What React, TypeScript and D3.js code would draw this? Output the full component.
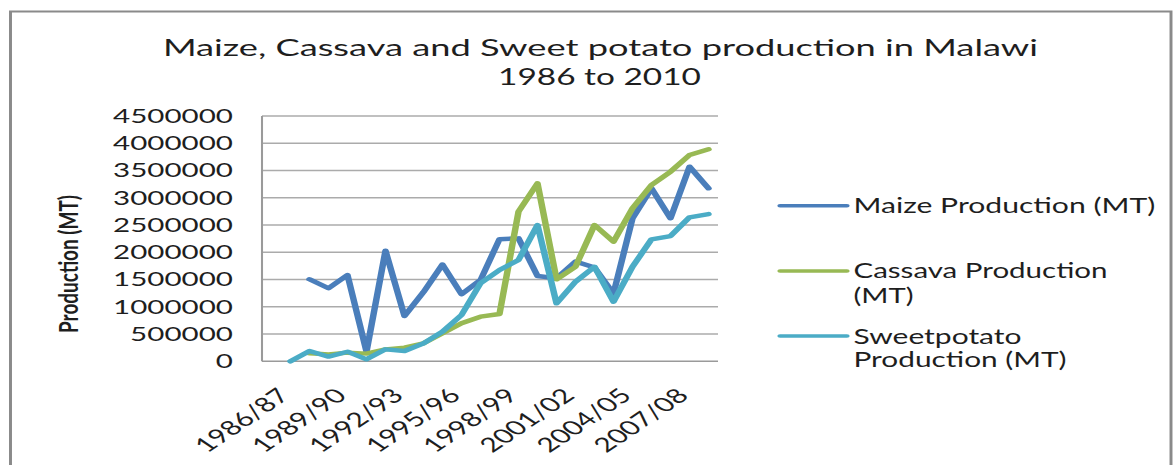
import React from "react";
import * as d3 from "d3";

const categories = [
  "1986/87", "1987/88", "1988/89", "1989/90", "1990/91", "1991/92",
  "1992/93", "1993/94", "1994/95", "1995/96", "1996/97", "1997/98",
  "1998/99", "1999/00", "2000/01", "2001/02", "2002/03", "2003/04",
  "2004/05", "2005/06", "2006/07", "2007/08", "2008/09", "2009/10",
];

const maize: (number | null)[] = [
  null, null, 1504000, 1339000, 1583000, 176000, 2029000, 830000,
  1270000, 1775000, 1230000, 1490000, 2240000, 2256000, 1565000, 1523000,
  1830000, 1720000, 1240000, 2623000, 3174000, 2623000, 3570000, 3174000,
];

const cassava: (number | null)[] = [
  null, null, 147000, 128000, 158000, 140000, 220000, 250000,
  330000, 514000, 697000, 818000, 868000, 2745000, 3265000, 1504000,
  1735000, 2500000, 2194000, 2807000, 3234000, 3478000, 3785000, 3889000,
];

const sweetpotato: (number | null)[] = [
  null, 0, 189000, 85000, 176000, 37000, 220000, 189000,
  330000, 543000, 849000, 1431000, 1675000, 1858000, 2500000, 1064000,
  1460000, 1735000, 1093000, 1735000, 2238000, 2298000, 2642000, 2702000,
];

const yTicks = [0, 500000, 1000000, 1500000, 2000000, 2500000, 3000000, 3500000, 4000000, 4500000];
const xTickLabels = ["1986/87", "1989/90", "1992/93", "1995/96", "1998/99", "2001/02", "2004/05", "2007/08"];

const seriesNames = ["Maize Production (MT)", "Cassava Production (MT)", "Sweetpotato Production (MT)"];
const titleLines = ["Maize, Cassava and Sweet potato production in Malawi", "1986 to 2010"];
const yTitle = "Production (MT)";

const W = 1176;
const H = 465;
const SX = 1.48; // horizontal stretch of the picture

const colors = ["#4a7ebb", "#98b954", "#4bacc6"];

export default function App() {
  const plotL = 262 / SX;
  const plotR = 718 / SX;
  const plotT = 116;
  const plotB = 361.3;

  const x = d3.scalePoint<string>().domain(categories).range([plotL, plotR]).padding(0.5);
  const y = d3.scaleLinear().domain([0, 4500000]).range([plotB, plotT]);

  const lineGen = d3
    .line<number | null>()
    .defined((d) => d != null)
    .x((_d, i) => x(categories[i]) as number)
    .y((d) => y(d as number));

  const series = [maize, cassava, sweetpotato];
  const font = "Lato, 'Open Sans', sans-serif";
  const textColor = "#1e1e1e";

  const legendX1 = 780 / SX;
  const legendX2 = 847 / SX;
  const legendTX = 853.5 / SX;
  const legend = [
    { lineY: 205.7, lines: [{ t: "Maize Production (MT)", y: 213.3, w: 301.7 / SX }] },
    {
      lineY: 271,
      lines: [
        { t: "Cassava Production", y: 278.3, w: 254 / SX },
        { t: "(MT)", y: 302.7, w: 60 / SX },
      ],
    },
    {
      lineY: 336,
      lines: [
        { t: "Sweetpotato", y: 343.8, w: 168 / SX },
        { t: "Production (MT)", y: 367, w: 213 / SX },
      ],
    },
  ];

  return (
    <svg
      width={W}
      height={H}
      style={{ position: "absolute", left: 0, top: 0, background: "#fff" }}
      aria-label={seriesNames.join(", ")}
    >
      <rect x={0} y={0} width={W} height={H} fill="#fff" />
      <g transform={`scale(${SX},1)`}>
        {/* outer frame */}
        <rect
          x={10.5 / SX}
          y={11.5}
          width={(1171 - 10.5) / SX}
          height={520}
          fill="none"
          stroke="#8a8a8a"
          strokeWidth={2}
        />
        {/* title */}
        <text x={163 / SX} y={56.5} fontFamily={font} fontSize={24} fill={textColor}
          textLength={875 / SX} lengthAdjust="spacingAndGlyphs">
          {titleLines[0]}
        </text>
        <text x={498 / SX} y={85.5} fontFamily={font} fontSize={24} fill={textColor}
          textLength={203 / SX} lengthAdjust="spacingAndGlyphs">
          {titleLines[1]}
        </text>

        {/* gridlines */}
        {yTicks.map((t) => (
          <line key={"g" + t} x1={plotL} x2={plotR} y1={y(t)} y2={y(t)}
            stroke={t === 0 ? "#9a9a9a" : "#ababab"} strokeWidth={1.4} />
        ))}
        <line x1={plotL} x2={plotL} y1={plotT} y2={plotB} stroke="#9a9a9a" strokeWidth={1.4} />

        {/* y tick labels */}
        {yTicks.map((t) => (
          <text key={"yl" + t} x={233 / SX} y={y(t)} dy="0.36em" textAnchor="end"
            fontFamily={font} fontSize={19} fill={textColor}
            textLength={(String(t).length * 120) / 7 / SX} lengthAdjust="spacingAndGlyphs">
            {String(t)}
          </text>
        ))}

        {/* y title */}
        <text
          transform={`translate(${53},${264}) rotate(-90)`}
          textAnchor="middle"
          fontFamily={font}
          fontWeight="bold"
          fontSize={18}
          fill={textColor}
          textLength={138}
          lengthAdjust="spacingAndGlyphs"
        >
          {yTitle}
        </text>

        {/* x tick labels */}
        {xTickLabels.map((c) => {
          const cx = x(c) as number;
          return (
            <text key={"xl" + c}
              transform={`translate(${cx + 13.2},${397}) rotate(-45)`}
              textAnchor="end" fontFamily={font} fontSize={20} fill={textColor}
              textLength={80} lengthAdjust="spacingAndGlyphs">
              {c}
            </text>
          );
        })}

        {/* series lines */}
        {series.map((s, k) => (
          <path key={"s" + k} d={lineGen(s) || ""} fill="none" stroke={colors[k]}
            strokeWidth={4.4} strokeLinejoin="round" strokeLinecap="round" />
        ))}

        {/* legend */}
        {legend.map((l, k) => (
          <g key={"lg" + k}>
            <line x1={legendX1} x2={legendX2} y1={l.lineY} y2={l.lineY} stroke={colors[k]}
              strokeWidth={3.6} strokeLinecap="round" />
            {l.lines.map((ln, j) => (
              <text key={j} x={legendTX} y={ln.y} fontFamily={font} fontSize={21} fill={textColor}
                textLength={ln.w} lengthAdjust="spacingAndGlyphs">
                {ln.t}
              </text>
            ))}
          </g>
        ))}
      </g>
    </svg>
  );
}
